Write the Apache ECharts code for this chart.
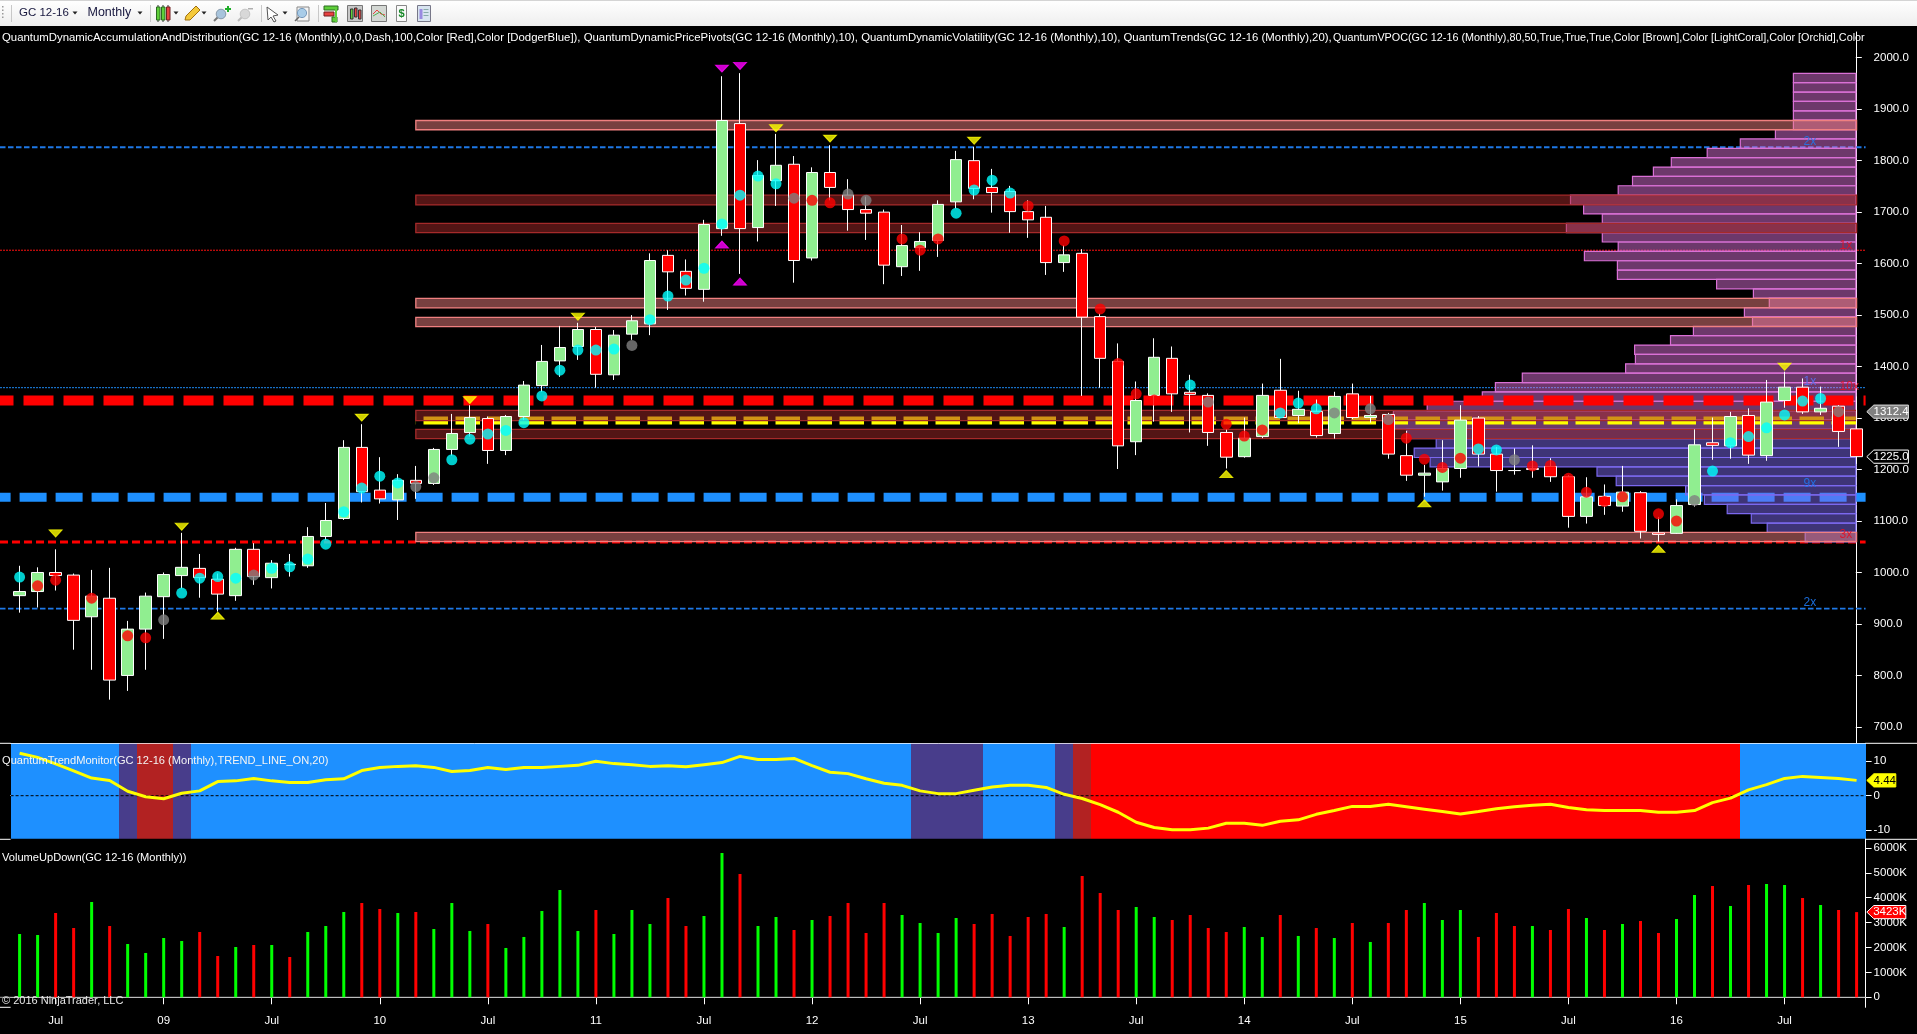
<!DOCTYPE html>
<html>
<head>
<meta charset="utf-8">
<style>html,body{margin:0;padding:0;background:#000;overflow:hidden}#c{width:1917px;height:1034px}</style>
<script src="https://cdn.jsdelivr.net/npm/echarts@6/dist/echarts.min.js"></script>
</head>
<body>
<div id="c"></div>
<script>
const tickLabels = ['Jul','09','Jul','10','Jul','11','Jul','12','Jul','13','Jul','14','Jul','15','Jul','16','Jul'];
const priceTicks = [700,800,900,1000,1100,1200,1300,1400,1500,1600,1700,1800,1900,2000];
const trendTicks = [-10,0,10];
const volumeTicks = [0,1000,2000,3000,4000,5000,6000];

const open = [955,963,1000,995,914,950,800,890,953,994,1008,987,955,1045,990,1015,1013,1070,1105,1243,1160,1141,1179,1173,1239,1272,1299,1237,1303,1363,1411,1439,1472,1384,1463,1483,1616,1585,1550,1668,1872,1670,1761,1793,1611,1777,1733,1705,1700,1594,1631,1645,1720,1800,1748,1740,1701,1690,1602,1620,1497,1410,1254,1344,1416,1350,1344,1272,1225,1264,1354,1305,1313,1270,1347,1301,1307,1227,1189,1176,1202,1300,1230,1198,1202,1206,1186,1109,1148,1129,1155,1077,1076,1132,1252,1246,1305,1227,1334,1360,1312,1323,1279];
const high = [1013,1010,1045,998,1005,1009,906,961,1000,1077,1036,998,1048,1057,1024,1036,1088,1135,1257,1288,1224,1191,1207,1242,1308,1325,1303,1306,1372,1442,1479,1485,1477,1471,1500,1620,1626,1608,1685,1964,1970,1801,1852,1809,1787,1830,1764,1730,1705,1675,1661,1723,1819,1827,1784,1751,1723,1712,1636,1628,1503,1445,1371,1455,1439,1384,1348,1278,1301,1367,1415,1353,1336,1351,1367,1343,1310,1275,1209,1257,1325,1304,1244,1241,1247,1222,1189,1185,1171,1207,1158,1108,1142,1278,1301,1312,1319,1374,1390,1377,1361,1325,1342];
const low = [922,932,965,850,811,753,770,811,871,969,951,924,945,976,969,992,1009,1063,1102,1136,1134,1102,1143,1170,1227,1264,1211,1228,1296,1351,1380,1413,1359,1374,1452,1461,1510,1538,1526,1654,1580,1643,1712,1563,1606,1723,1664,1646,1560,1576,1586,1613,1707,1725,1699,1660,1650,1578,1584,1343,1359,1201,1228,1293,1312,1272,1246,1202,1223,1261,1300,1290,1262,1260,1298,1291,1221,1178,1147,1159,1184,1206,1157,1190,1184,1176,1087,1095,1112,1118,1066,1060,1075,1128,1219,1221,1211,1217,1320,1308,1306,1244,1211];
const close = [963,1000,994,907,954,791,890,954,996,1010,990,958,1045,992,1018,1016,1070,1101,1243,1157,1143,1179,1173,1239,1270,1301,1237,1303,1364,1410,1437,1472,1385,1461,1489,1606,1584,1552,1676,1878,1668,1771,1791,1606,1777,1748,1705,1698,1597,1635,1643,1715,1802,1746,1738,1701,1685,1602,1617,1496,1416,1246,1334,1418,1347,1346,1272,1224,1261,1344,1301,1317,1266,1342,1301,1305,1230,1189,1193,1202,1296,1230,1198,1198,1200,1186,1109,1147,1130,1156,1080,1074,1130,1248,1247,1303,1228,1331,1360,1312,1319,1274,1225];

const dotPrice = [991,974,985,null,950,null,877,873,908,960,989,992,989,995,1008,1011,1026,1055,1118,1164,1187,1174,1167,1184,1219,1259,1269,1276,1291,1343,1393,1432,1432,1434,1441,1491,1537,1568,1591,1677,1733,1770,1755,1727,1723,1718,1735,1723,null,1648,1626,1648,1698,1743,1762,1737,1712,null,1644,null,1512,1406,1347,1335,null,1364,1331,1288,1265,1277,1310,1329,1318,1310,null,1318,1297,1261,1220,1204,1222,1240,1238,1219,1207,1208,1183,1156,1138,1147,null,1114,1100,1140,1197,1252,1264,1281,1306,1333,1338,1312.4,null];
const dotKind = ['c','r','r','','r','','r','r','g','c','c','c','c','g','c','c','c','c','c','c','c','c','g','g','c','c','c','c','c','c','c','c','c','c','g','c','c','c','c','c','c','c','c','g','r','r','g','g','','r','r','r','c','c','c','c','r','','r','','r','r','r','r','','c','g','r','r','r','c','c','c','g','','g','g','r','r','r','r','c','c','g','r','r','r','r','r','r','','r','r','g','c','c','c','c','c','c','c','g',''];

const pivotHighYellow = [[2,1076],[9,1089],[19,1301],[25,1335],[31,1497],[42,1863],[45,1843],[53,1839],[98,1400]];
const pivotLowYellow = [[11,916],[67,1191],[78,1134],[91,1046]];
const pivotHighMagenta = [[39,1979],[40,1984]];
const pivotLowMagenta = [[39,1637],[40,1565]];

const lightZones = [[1878,1860],[1532.5,1514],[1495.6,1477.5],[1078,1060]];
const darkZones = [[1733,1714],[1678,1660],[1315,1295],[1278,1260]];
const zoneFrom = 22, zoneTo = 102;

const vpocTop = 1969.6, vpocStep = 18.2, vpocBlueFrom = 38;
const vpocVolume = [62.4,62.4,62.4,62.4,62.4,62.4,80.4,115.5,148.6,184.5,202.4,223.3,237.6,285.3,272.2,253.5,289.4,253.5,237.6,271.4,238.4,238.4,139.2,102.4,86.5,111.4,103.3,162.4,185.3,221.2,220.4,230.2,333.5,360.4,373.5,428.6,462.4,462.4,449,419.6,441.6,425.7,258.8,239.6,170.2,151.4,128.6,104.5,88.6,50.6];

const levelRedHeavy = 1334, levelBlueHeavy = 1146, levelRedMid = 1059, levelYellow = 1295;
const levelBlueTop = 1826, levelBlueThin = 1359, levelBlueLow = 930, levelRedThin = 1626;
const levelTags = [
  {i:99,p:1837,t:'2x',c:'rgba(30,120,240,.85)'},{i:101,p:1635,t:'1x',c:'rgba(225,15,40,.9)'},
  {i:99,p:1370,t:'1x',c:'rgba(90,110,235,.95)'},{i:101,p:1361,t:'10x',c:'rgba(225,15,40,.9)'},
  {i:99,p:1172,t:'9x',c:'rgba(30,120,240,.85)'},{i:101,p:1073,t:'3x',c:'rgba(225,15,40,.9)'},
  {i:99,p:942,t:'2x',c:'rgba(30,120,240,.9)'}];

const trendValue = [12.3,11.1,9.2,7.2,5.1,4.4,1.3,-0.3,-0.9,0.7,1.4,4.1,4.3,5.0,4.3,3.8,3.8,4.6,4.9,7.3,8.2,8.5,8.7,8.2,7.0,7.3,8.2,7.6,8.2,8.2,8.5,8.8,10.0,9.3,9.0,8.5,8.7,8.4,9.0,9.6,11.4,10.5,10.5,10.8,8.7,6.8,6.4,4.9,3.6,3.0,1.4,0.6,0.6,1.6,2.5,3.0,3.0,2.4,0.4,-0.8,-2.6,-4.8,-7.7,-9.2,-9.9,-9.9,-9.4,-8.0,-8.0,-8.6,-7.4,-7.0,-5.4,-4.3,-3.1,-3.1,-2.5,-3.2,-3.9,-4.6,-5.3,-4.6,-3.8,-3.2,-2.8,-2.5,-3.4,-4.1,-4.3,-4.3,-4.3,-4.8,-4.8,-4.3,-2.0,-0.7,1.7,3.2,5.0,5.6,5.3,5.0,4.44];
const trendRuns = [['b',6],['p',1],['f',2],['p',1],['b',40],['p',4],['b',4],['p',1],['f',1],['r',36],['b',7]];

const volume = [2544,2504,3388,2785,3830,2865,2142,1781,2383,2263,2624,1660,2022,2102,2102,1620,2624,2865,3428,3789,3548,3388,3428,2745,3789,2665,2946,1982,2424,3468,4312,2665,3508,2544,3508,2946,3990,2865,3267,5798,4954,2865,3227,2705,3106,3267,3789,2584,3789,3307,2986,2584,3187,2946,3348,2464,3227,3348,2825,4874,4191,3508,3629,3227,3106,3307,2785,2624,2825,2424,3307,2464,2785,2383,2986,2223,2986,3508,3789,3106,3508,2424,3388,2865,2865,2705,3548,3187,2705,2946,3066,2584,3147,4111,4472,3669,4512,4553,4512,3990,3709,3508,3423];
const volumeDir = ['u','u','d','d','u','d','u','u','u','u','d','d','u','d','u','d','u','u','u','d','d','u','d','u','u','u','d','u','u','u','u','u','d','u','u','u','d','d','u','u','d','u','u','d','u','d','d','d','d','u','u','u','u','d','d','d','d','d','u','d','d','d','u','u','d','d','d','d','u','u','d','u','d','u','d','u','d','d','u','u','u','d','d','d','u','d','d','u','d','u','d','d','u','u','d','u','d','u','u','d','u','d','d'];

const headerIndicators = 'QuantumDynamicAccumulationAndDistribution(GC 12-16 (Monthly),0,0,Dash,100,Color [Red],Color [DodgerBlue]), QuantumDynamicPricePivots(GC 12-16 (Monthly),10), QuantumDynamicVolatility(GC 12-16 (Monthly),10), QuantumTrends(GC 12-16 (Monthly),20),';
const headerVpoc = 'QuantumVPOC(GC 12-16 (Monthly),80,50,True,True,True,Color [Brown],Color [LightCoral],Color [Orchid],Color';

const FONT = '"Liberation Sans", Arial, sans-serif';
const LEFT = 10.6, AXIS_X = 1865.6, RIGHT = 1917 - AXIS_X;

const categories = new Array(open.length).fill('');
tickLabels.forEach((t, k) => { categories[2 + 6 * k] = t; });
const showLabel = (idx, val) => val !== '';

const candleData = open.map((o, i) => [o, close[i], low[i], high[i]]);
const trendStates = [];
trendRuns.forEach(r => { for (let k = 0; k < r[1]; k++) trendStates.push(r[0]); });
const stateColor = {b:'#1e90ff', p:'#483d8b', f:'#b22222', r:'#ff0000'};
const dotColor = {c:'#00ffff', r:'#ff0000', g:'#808080'};

function line(name, price, z, width, color, dash, offset, from, to) {
  return {
    type:'custom', name, z, silent:true, animation:false, xAxisIndex:0, yAxisIndex:0,
    encode:{x:0,y:1}, data:[[from == null ? 0 : from, price]],
    renderItem(params, api) {
      const cs = params.coordSys;
      const y = api.coord([0, price])[1];
      const x1 = from == null ? 0 : api.coord([from, price])[0];
      const x2 = to == null ? cs.x + cs.width : api.coord([to, price])[0];
      return {type:'line', shape:{x1, y1:y, x2, y2:y},
        style:{stroke:color, lineWidth:width, lineDash:dash, lineDashOffset:offset || 0, fill:null}};
    }
  };
}
function zones(name, list, fill, stroke, z) {
  return {
    type:'custom', name, z, silent:true, animation:false, xAxisIndex:0, yAxisIndex:0,
    encode:{y:[1,2]}, data:list.map(b => [zoneFrom, b[0], b[1]]),
    renderItem(params, api) {
      const a = api.coord([zoneFrom, api.value(1)]);
      const b = api.coord([zoneTo, api.value(2)]);
      return {type:'rect', shape:{x:a[0], y:a[1], width:b[0]-a[0], height:b[1]-a[1]},
        style:{fill, stroke, lineWidth:1.3}};
    }
  };
}
function tag(name, xi, yi, value, text, bg, fg, stroke, w) {
  return {
    type:'custom', name, z:30, silent:true, animation:false, xAxisIndex:xi, yAxisIndex:yi,
    encode:{x:0,y:1}, data:[[102, value]],
    renderItem(params, api) {
      const y = api.coord([102, value])[1];
      const x0 = AXIS_X + 1.2, h = 6.6;
      return {type:'group', children:[
        {type:'polygon', shape:{points:[[x0,y],[x0+7,y-h],[x0+w,y-h],[x0+w,y+h],[x0+7,y+h]]}, style:{fill:bg, stroke, lineWidth:1}},
        {type:'text', z2:5, style:{text, x:x0+(w+7)/2, y, fill:fg, font:'11.5px '+FONT, align:'center', verticalAlign:'middle'}}
      ]};
    }
  };
}
function tri(name, list, color, down) {
  return {
    type:'scatter', name, z:9, silent:true, animation:false, xAxisIndex:0, yAxisIndex:0,
    symbol:'triangle', symbolSize:[13,7], symbolRotate:down ? 180 : 0,
    itemStyle:{color, borderColor:color, borderWidth:1},
    data:list.map(p => [p[0], p[1]])
  };
}

const baseCat = gridIndex => ({
  type:'category', gridIndex, data:categories, boundaryGap:true,
  axisLine:{show:true, lineStyle:{color:'#fff', width:1}}, axisTick:{show:false}, axisLabel:{show:false}, splitLine:{show:false}
});
const baseVal = (gridIndex, min, max, ticks, fmt) => ({
  type:'value', gridIndex, position:'right', min, max, scale:true,
  axisLine:{show:true, lineStyle:{color:'#fff', width:1}},
  axisTick:{show:true, length:6, lineStyle:{color:'#fff'}, customValues:ticks},
  axisLabel:{show:true, color:'#fff', fontSize:11.5, fontFamily:FONT, margin:8, customValues:ticks, formatter:fmt, hideOverlap:false},
  splitLine:{show:false}
});

// ---- toolbar (chrome) ----
function txt(t, x, y, size, color) {
  return {type:'text', z:100, silent:true, style:{text:t, x, y, fill:color, font:size+'px '+FONT, verticalAlign:'middle'}};
}
function rc(x,y,w,h,fill,stroke) { return {type:'rect', z:100, silent:true, shape:{x,y,width:w,height:h}, style:{fill, stroke:stroke||null, lineWidth:1}}; }
function poly(pts,fill,stroke) { return {type:'polygon', z:100, silent:true, shape:{points:pts}, style:{fill, stroke:stroke||null, lineWidth:1}}; }
function circ(cx,cy,r,fill,stroke) { return {type:'circle', z:100, silent:true, shape:{cx,cy,r}, style:{fill, stroke:stroke||null, lineWidth:1}}; }
function hl(x1,y1,x2,y2,c,w) { return {type:'line', z:100, silent:true, shape:{x1,y1,x2,y2}, style:{stroke:c, lineWidth:w||1}}; }
const caret = x => poly([[x-2.5,11.5],[x+2.5,11.5],[x,14.5]],'#222');
const toolbar = [
  {type:'rect', z:100, silent:true, shape:{x:0,y:0,width:1917,height:26},
   style:{fill:new echarts.graphic.LinearGradient(0,0,0,1,[{offset:0,color:'#ffffff'},{offset:1,color:'#eeeeee'}])}},
  rc(0,0,1917,1,'#d4d4d4'),
  rc(2,6,1.5,1.5,'#999'),rc(2,9.5,1.5,1.5,'#999'),rc(2,13,1.5,1.5,'#999'),rc(2,16.5,1.5,1.5,'#999'),
  rc(11,5,1,17,'#c8c8c8'),rc(150,5,1,17,'#c8c8c8'),rc(261,5,1,17,'#c8c8c8'),rc(318,5,1,17,'#c8c8c8'),
  txt('GC 12-16',19,13,11.5,'#15153c'), caret(75),
  txt('Monthly',87.5,13,12.5,'#15153c'), caret(140),
  hl(158,5,158,22,'#333'),hl(163,5,163,22,'#333'),hl(168,5,168,22,'#333'),
  rc(156.5,7,3.5,13,'#5fcf3a','#2a6a20'),rc(161.5,7,3.5,13,'#5fcf3a','#2a6a20'),rc(166.5,7,3.5,13,'#e84040','#702020'),
  caret(176),
  poly([[185,20],[186,16],[196,6],[200,10],[190,20]],'#f4c93a','#a07010'), caret(204),
  hl(214,21,218,17,'#777',2), circ(221,14,4.8,'#a8c4dc','#8899aa'), rc(225,8,6,2,'#1fae2a'), rc(227,6,2,6,'#1fae2a'),
  hl(238,21,242,17,'#bbb',2), circ(245,14,4.8,'#d8d8d8','#c4c4c4'), rc(248,8,5,1.5,'#b0b0b0'),
  poly([[267,7],[278,15],[273,16],[276,21],[274,22],[271,17],[268,20]],'#fff','#555'), caret(285),
  rc(297,7,12,14,'#f4f4f4','#888'), circ(302,13,4.6,'#a8cce8','#7799bb'), hl(295,21,299,17,'#666',1.5),
  rc(324,6,14,4,'#5fcf3a','#2a6a20'), rc(324,12,10,4,'#e84040','#702020'), rc(332,17,5,5,'#5fcf3a','#2a6a20'), rc(335,8,2,14,'#5fcf3a'),
  rc(347.5,5.5,15,16,'#c8c8c8','#777'), rc(350.5,9,2.5,10,'#5fcf3a','#333'), rc(354.5,8,2.5,9,'#e84040','#333'), rc(358.5,10,2.5,9,'#e84040','#333'),
  rc(371.5,5.5,15,16,'#d4d8d4','#777'), hl(373,14,377,10,'#e84040'), hl(377,10,381,14,'#e84040'), hl(381,14,385,15,'#e84040'), hl(373,16,380,12,'#50b050'), hl(380,12,385,17,'#50b050'),
  rc(396.5,5.5,10,16,'#fafafa','#888'),
  {type:'text', z:100, silent:true, style:{text:'$', x:398.5, y:14, fill:'#1a8a2a', font:'bold 11px '+FONT, verticalAlign:'middle'}},
  rc(417.5,5.5,13,16,'#d8e4f0','#778'), rc(419.5,9,3,10,'#9a8ae0'), rc(423.5,9,5,1,'#8aa'), rc(423.5,12,5,1,'#8aa'), rc(423.5,15,5,1,'#8aa'),
  hl(0,743.3,LEFT,743.3,'#fff',1), hl(0,839.3,LEFT,839.3,'#fff',1), hl(0,1007.3,LEFT,1007.3,'#fff',1),
  hl(AXIS_X,743.3,1917,743.3,'#fff',1), hl(AXIS_X,839.3,1917,839.3,'#fff',1),
  txt(headerIndicators,2,38.3,11.38,'#fff'),
  txt(headerVpoc,1333,38.3,10.8,'#fff'),
  txt('QuantumTrendMonitor(GC 12-16 (Monthly),TREND_LINE_ON,20)',2,761,11.1,'#f4f4f4'),
  txt('VolumeUpDown(GC 12-16 (Monthly))',2,857.5,11.1,'#fff'),
  txt('© 2016 NinjaTrader, LLC',2,1001,11,'#e8e8e8')
];

const option = {
  animation:false, backgroundColor:'#000',
  textStyle:{fontFamily:FONT},
  grid:[
    {left:LEFT, right:RIGHT, top:32, height:711.3, containLabel:false},
    {left:LEFT, right:RIGHT, top:743.3, height:96, containLabel:false},
    {left:LEFT, right:RIGHT, top:839.3, height:168, containLabel:false}
  ],
  xAxis:[
    baseCat(0),
    {type:'value', gridIndex:0, show:false, inverse:true, min:-9.8, max:1845.2},
    baseCat(1),
    Object.assign(baseCat(2), {
      axisTick:{show:true, length:7, alignWithLabel:true, interval:showLabel, lineStyle:{color:'#fff'}},
      axisLabel:{show:true, color:'#fff', fontSize:11.5, fontFamily:FONT, interval:showLabel, margin:8}
    })
  ],
  yAxis:[
    baseVal(0, 668.2, 2049.9, priceTicks, v => v.toFixed(1)),
    baseVal(1, -12.64, 15.19, trendTicks, v => String(v)),
    baseVal(2, -402, 6348, volumeTicks, v => v === 0 ? '0' : v + 'K')
  ],
  graphic:{elements:toolbar},
  series:[
    line('blueTop', levelBlueTop, 1, 1.8, '#1e78e6', [5.5,2.5]),
    line('blueThin', levelBlueThin, 1, 1, '#1e88f0', [2,1]),
    line('blueLow', levelBlueLow, 1, 1.8, '#1e78e6', [5.5,2.5]),
    line('redThin', levelRedThin, 1, 1, '#ff1010', [2,1]),
    line('blueHeavy', levelBlueHeavy, 2, 9, '#1e90ff', [27,9], 16.4),
    line('redMid', levelRedMid, 2, 3, '#ff0000', [8,4]),
    {
      type:'custom', name:'vpoc', z:3, silent:true, animation:false, xAxisIndex:1, yAxisIndex:0,
      encode:{x:0,y:[1,2]},
      data:vpocVolume.map((v, k) => [v, vpocTop - k * vpocStep, vpocTop - (k + 1) * vpocStep, k]),
      renderItem(params, api) {
        const a = api.coord([api.value(0), api.value(1)]);
        const b = api.coord([0, api.value(2)]);
        const blue = api.value(3) >= vpocBlueFrom;
        return {type:'rect', shape:{x:a[0], y:a[1], width:b[0]-a[0], height:b[1]-a[1]},
          style:{fill:blue ? 'rgba(123,104,238,.5)' : 'rgba(218,112,214,.5)', stroke:blue ? '#7b68ee' : '#da70d6', lineWidth:1.2}};
      }
    },
    line('redHeavy', levelRedHeavy, 4, 10, '#ff0000', [30,10], 16.5),
    line('yellow', levelYellow, 4, 8, '#ffff00', [24.5,7.5], 24.3, zoneFrom, zoneTo),
    zones('darkZones', darkZones, 'rgba(165,42,42,.5)', '#a52a2a', 5),
    zones('lightZones', lightZones, 'rgba(240,128,128,.5)', '#f08080', 5),
    {
      type:'custom', name:'levelTags', z:6, silent:true, animation:false, xAxisIndex:0, yAxisIndex:0,
      encode:{x:0,y:1}, data:levelTags.map(t => [t.i, t.p]),
      renderItem(params, api) {
        const t = levelTags[params.dataIndex];
        const c = api.coord([t.i, t.p]);
        return {type:'text', style:{text:t.t, x:c[0]+1, y:c[1], fill:t.c, font:'12px '+FONT, verticalAlign:'middle'}};
      }
    },
    {
      type:'candlestick', name:'GC 12-16', z:7, silent:true, animation:false, xAxisIndex:0, yAxisIndex:0,
      barWidth:12,
      itemStyle:{color:'#90ee90', color0:'#ff0000', borderColor:'#ffffff', borderColor0:'#ffffff', borderColorDoji:'#ffffff', borderWidth:1},
      data:candleData
    },
    {
      type:'scatter', name:'dots', z:8, silent:true, animation:false, xAxisIndex:0, yAxisIndex:0,
      symbol:'circle', symbolSize:11,
      itemStyle:{color:p => dotColor[dotKind[p.data[2]]]},
      data:dotPrice.map((p, i) => p == null ? null : [i, p, i]).filter(Boolean)
    },
    tri('pivotHighYellow', pivotHighYellow, '#ffff00', true),
    tri('pivotLowYellow', pivotLowYellow, '#ffff00', false),
    tri('pivotHighMagenta', pivotHighMagenta, '#ff00ff', true),
    tri('pivotLowMagenta', pivotLowMagenta, '#ff00ff', false),
    tag('lastDot', 0, 0, 1312.4, '1312.4', '#808080', '#fff', '#ddd', 41.6),
    tag('lastPrice', 0, 0, 1225, '1225.0', '#000', '#fff', '#fff', 41.6),

    {
      type:'custom', name:'trendState', z:1, silent:true, animation:false, xAxisIndex:2, yAxisIndex:1,
      encode:{x:0}, data:trendStates.map((s, i) => [i]),
      renderItem(params, api) {
        const cs = params.coordSys;
        const w = api.size([1,0])[0];
        const c = api.coord([api.value(0), 0])[0];
        const x = Math.round(c - w/2), x2 = Math.round(c + w/2);
        return {type:'rect', shape:{x, y:cs.y+0.5, width:x2-x, height:cs.height-1},
          style:{fill:stateColor[trendStates[params.dataIndex]]}};
      }
    },
    {
      type:'custom', name:'trendZero', z:2, silent:true, animation:false, xAxisIndex:2, yAxisIndex:1,
      encode:{x:0,y:1}, data:[[0,0]],
      renderItem(params, api) {
        const w = api.size([1,0])[0];
        const p = api.coord([0,0]);
        const e = api.coord([102,0]);
        return {type:'line', shape:{x1:p[0]-w/2, y1:p[1], x2:e[0]+w/2, y2:p[1]},
          style:{stroke:'#000', lineWidth:1, lineDash:[3,2]}};
      }
    },
    {
      type:'line', name:'trend', z:3, silent:true, animation:false, xAxisIndex:2, yAxisIndex:1,
      symbol:'none', lineStyle:{color:'#ffff00', width:3}, data:trendValue
    },
    tag('lastTrend', 2, 1, 4.44, '4.44', '#ffff00', '#000', '#ffff00', 29),

    {
      type:'custom', name:'volumeZero', z:1, silent:true, animation:false, xAxisIndex:3, yAxisIndex:2,
      encode:{x:0,y:1}, data:[[0,0]],
      renderItem(params, api) {
        const cs = params.coordSys;
        const y = api.coord([0,0])[1];
        return {type:'line', shape:{x1:0, y1:y, x2:cs.x+cs.width, y2:y}, style:{stroke:'#aaaaaa', lineWidth:1}};
      }
    },
    {
      type:'bar', name:'VolumeUpDown', z:2, silent:true, animation:false, xAxisIndex:3, yAxisIndex:2,
      barWidth:3,
      data:volume.map((v, i) => ({value:v, itemStyle:{color:volumeDir[i] === 'u' ? '#00ff00' : '#ff0000'}}))
    },
    tag('lastVolume', 3, 2, 3423, '3423K', '#ff0000', '#fff', '#fff', 39)
  ]
};
const chart = echarts.init(document.getElementById('c'), null, {renderer:'canvas', width:1917, height:1034});
chart.setOption(option);
</script>
</body>
</html>
